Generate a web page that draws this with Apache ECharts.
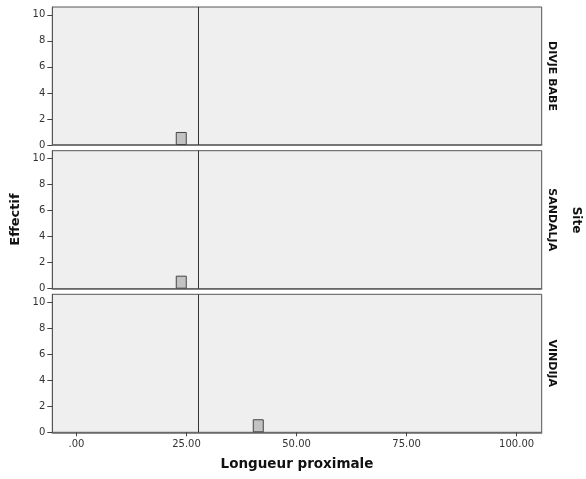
<!DOCTYPE html>
<html>
<head>
<meta charset="utf-8">
<script src="https://cdn.jsdelivr.net/npm/echarts@6/dist/echarts.min.js"></script>
<style>
html,body{margin:0;padding:0;background:#fff;}
#c{width:586px;height:479px;}
</style>
</head>
<body>
<div id="c"></div>
<script>
const sites = ['DIVJE BABE', 'SANDALJA', 'VINDIJA'];
const binCenters = [[23.8], [23.8], [41.3]];
const binCounts = [[1], [1], [1]];
const referenceLineX = 27.7;
const xTicks = [0, 25, 50, 75, 100];
const xTickLabels = ['.00', '25.00', '50.00', '75.00', '100.00'];
const yTicks = [0, 2, 4, 6, 8, 10];
const xTitle = 'Longueur proximale';
const yTitle = 'Effectif';
const facetTitle = 'Site';

const chart = echarts.init(document.getElementById('c'));
const FONT = 'DejaVu Sans';
const panelTops = [7, 150.7, 294.3];
const panelH = 138;
const left = 52.3, right = 586 - 541.7;

const grids = [], xAxes = [], yAxes = [], series = [], graphics = [];
sites.forEach((s, i) => {
  const last = i === sites.length - 1;
  grids.push({left: left, right: right, top: panelTops[i], height: panelH,
    show: true, backgroundColor: '#efefef', borderColor: '#555', borderWidth: 1});
  xAxes.push({type: 'value', gridIndex: i, min: -5.5, max: 105.7,
    splitLine: {show: false},
    axisLine: {show: true, onZero: false, lineStyle: {color: '#666', width: 1.5}},
    axisTick: {show: last, length: 4, customValues: xTicks, lineStyle: {color: '#444'}},
    axisLabel: {show: last, margin: 7, customValues: xTicks, color: '#333',
      fontFamily: FONT, fontSize: 10,
      formatter: v => xTickLabels[xTicks.indexOf(v)] ?? ''}
  });
  yAxes.push({type: 'value', gridIndex: i, min: 0, max: 10.6,
    splitLine: {show: false},
    axisLine: {show: true, onZero: false, lineStyle: {color: '#555'}},
    axisTick: {show: true, length: 5, customValues: yTicks, lineStyle: {color: '#444'}},
    axisLabel: {margin: 7, customValues: yTicks, color: '#333', fontFamily: FONT, fontSize: 10}
  });
  series.push({type: 'bar', xAxisIndex: i, yAxisIndex: i, barWidth: 11,
    data: binCenters[i].map((c, k) => [c, binCounts[i][k]]),
    itemStyle: {color: '#c2c2c2', borderColor: '#444', borderWidth: 1},
    silent: true,
    markLine: {silent: true, symbol: 'none', label: {show: false},
      lineStyle: {color: '#333', type: 'solid', width: 1},
      data: [{xAxis: referenceLineX}]}
  });
  graphics.push({type: 'text', x: 551.5, y: panelTops[i] + panelH / 2, rotation: -Math.PI / 2,
    style: {text: s, font: 'bold 11px "DejaVu Sans"', fill: '#111', align: 'center', verticalAlign: 'middle'}});
});
graphics.push({type: 'text', x: 576, y: 220, rotation: -Math.PI / 2,
  style: {text: facetTitle, font: 'bold 12px "DejaVu Sans"', fill: '#111', align: 'center', verticalAlign: 'middle'}});
graphics.push({type: 'text', x: 16, y: 219.5, rotation: Math.PI / 2,
  style: {text: yTitle, font: 'bold 13px "DejaVu Sans"', fill: '#111', align: 'center', verticalAlign: 'middle'}});
graphics.push({type: 'text', x: 297, y: 464,
  style: {text: xTitle, font: 'bold 13.5px "DejaVu Sans"', fill: '#111', align: 'center', verticalAlign: 'middle'}});

chart.setOption({
  animation: false,
  backgroundColor: '#fff',
  grid: grids, xAxis: xAxes, yAxis: yAxes, series: series, graphic: graphics
});
</script>
</body>
</html>
